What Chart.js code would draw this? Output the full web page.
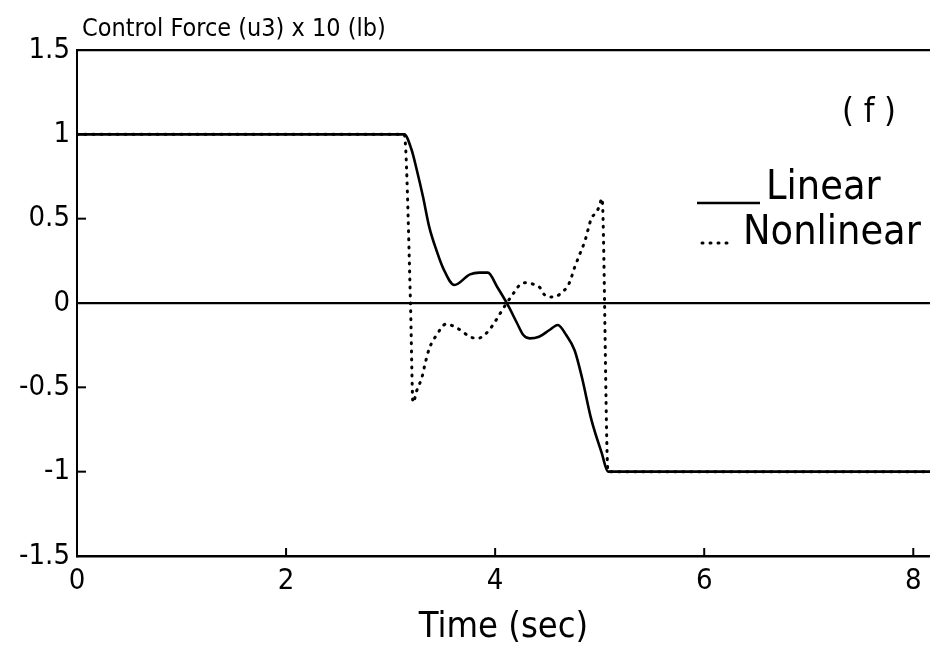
<!DOCTYPE html>
<html>
<head>
<meta charset="utf-8">
<script src="https://cdn.jsdelivr.net/npm/chart.js@4.4.1/dist/chart.umd.min.js"></script>
<style>
  html, body { margin: 0; padding: 0; background: #fff; }
  #chart { display: block; }
</style>
</head>
<body>
<canvas id="chart" width="930" height="651"></canvas>
<script>
// Data
const linearT = [0, 3.13, 3.20, 3.25, 3.31, 3.37, 3.44, 3.50, 3.61, 3.76, 3.85, 3.93, 4.02, 4.12, 4.21, 4.27, 4.33, 4.42, 4.52, 4.60, 4.68, 4.76, 4.83, 4.92, 5.02, 5.08, 8.2];
const linearY = [1, 1, 0.91, 0.79, 0.63, 0.45, 0.31, 0.21, 0.107, 0.17, 0.18, 0.18, 0.095, -0.01, -0.12, -0.19, -0.21, -0.20, -0.16, -0.13, -0.19, -0.28, -0.44, -0.69, -0.89, -1, -1];

const nonlinearT = [0, 3.13, 3.19, 3.21, 3.215, 3.25, 3.30, 3.33, 3.37, 3.44, 3.53, 3.64, 3.76, 3.83, 3.93, 4.01, 4.09, 4.19, 4.25, 4.30, 4.37, 4.43, 4.47, 4.53, 4.59, 4.64, 4.69, 4.72, 4.76, 4.81, 4.86, 4.92, 4.97, 5.00, 5.02, 5.03, 5.08, 8.2];
const nonlinearY = [1, 1, 0, -0.56, -0.59, -0.52, -0.44, -0.36, -0.27, -0.19, -0.125, -0.15, -0.20, -0.21, -0.17, -0.10, -0.02, 0.07, 0.115, 0.12, 0.11, 0.09, 0.05, 0.035, 0.04, 0.065, 0.095, 0.135, 0.21, 0.29, 0.37, 0.50, 0.54, 0.58, 0.62, 0.55, -1, -1];

const xTickValues = [0, 2, 4, 6, 8];
const xTickLabels = ['0', '2', '4', '6', '8'];
const yTickValues = [-1.5, -1, -0.5, 0, 0.5, 1, 1.5];
const yTickLabels = ['-1.5', '-1', '-0.5', '0', '0.5', '1', '1.5'];

const seriesNames = ['Linear', 'Nonlinear'];
const yTitle = 'Control Force (u3) x 10 (lb)';
const xTitle = 'Time (sec)';
const panelTag = '( f )';

const FONT = "'DejaVu Sans Condensed', 'DejaVu Sans', sans-serif";

function toPoints(xs, ys) {
    return xs.map((x, i) => ({ x: x, y: ys[i] }));
}

// Extra drawing: inward tick marks, top-left title, legend text, panel tag
const decorations = {
    id: 'decorations',
    afterDraw(chart) {
        const ctx = chart.ctx;
        const xs = chart.scales.x;
        const ys = chart.scales.y;
        const area = chart.chartArea;
        ctx.save();
        ctx.strokeStyle = '#000';
        ctx.lineWidth = 2;
        xTickValues.slice(1).forEach(v => {
            const px = xs.getPixelForValue(v);
            ctx.beginPath();
            ctx.moveTo(px, area.bottom);
            ctx.lineTo(px, area.bottom - 8);
            ctx.stroke();
        });
        yTickValues.slice(1, -1).forEach(v => {
            const py = ys.getPixelForValue(v);
            ctx.beginPath();
            ctx.moveTo(area.left, py);
            ctx.lineTo(area.left + 9, py);
            ctx.stroke();
        });

        ctx.fillStyle = '#000';
        ctx.textBaseline = 'alphabetic';
        ctx.textAlign = 'left';
        ctx.font = '25px ' + FONT;
        ctx.fillText(yTitle, 82, 36);

        ctx.font = '34px ' + FONT;
        ctx.fillText(panelTag, 842, 122);

        // legend
        ctx.font = '41px ' + FONT;
        ctx.fillText(seriesNames[0], 766, 199);
        ctx.fillText(seriesNames[1], 743, 244);
        ctx.lineWidth = 2.5;
        ctx.beginPath();
        ctx.moveTo(697, 203);
        ctx.lineTo(760, 203);
        ctx.stroke();
        ctx.setLineDash([1, 7]);
        ctx.lineCap = 'round';
        ctx.lineWidth = 3;
        ctx.beginPath();
        ctx.moveTo(702, 243);
        ctx.lineTo(730, 243);
        ctx.stroke();
        ctx.restore();
    }
};

const ctx = document.getElementById('chart').getContext('2d');
const chart = new Chart(ctx, {
    type: 'scatter',
    data: {
        datasets: [{
            label: seriesNames[0],
            data: toPoints(linearT, linearY),
            showLine: true,
            borderColor: '#000',
            borderWidth: 2.6,
            pointRadius: 0,
            cubicInterpolationMode: 'monotone'
        }, {
            label: seriesNames[1],
            data: toPoints(nonlinearT, nonlinearY),
            showLine: true,
            borderColor: '#000',
            borderWidth: 3,
            borderDash: [1, 7],
            borderCapStyle: 'round',
            pointRadius: 0,
            cubicInterpolationMode: 'monotone'
        }]
    },
    options: {
        responsive: false,
        animation: false,
        layout: { padding: { top: 50, right: 0, left: 0, bottom: 0 } },
        plugins: {
            legend: { display: false },
            tooltip: { enabled: false }
        },
        scales: {
            x: {
                type: 'linear',
                min: 0,
                max: 8.16,
                afterBuildTicks: (scale) => { scale.ticks = xTickValues.map(v => ({ value: v })); },
                afterFit: (scale) => { scale.height = 95; },
                ticks: {
                    color: '#000',
                    font: { family: FONT, size: 29 },
                    padding: 8,
                    maxRotation: 0,
                    callback: (v) => xTickLabels[xTickValues.indexOf(v)]
                },
                grid: { display: false, drawTicks: false },
                border: { display: true, color: '#000', width: 2.5 },
                title: {
                    display: true,
                    text: xTitle,
                    color: '#000',
                    font: { family: FONT, size: 36 },
                    padding: { top: 0, bottom: 2 }
                }
            },
            y: {
                type: 'linear',
                min: -1.5,
                max: 1.5,
                afterBuildTicks: (scale) => { scale.ticks = yTickValues.map(v => ({ value: v })); },
                afterFit: (scale) => { scale.width = 77; },
                ticks: {
                    color: '#000',
                    font: { family: FONT, size: 29 },
                    padding: 7,
                    callback: (v) => yTickLabels[yTickValues.indexOf(v)]
                },
                grid: {
                    drawTicks: false,
                    lineWidth: 2.2,
                    color: (c) => (c.tick && (c.tick.value === 0 || c.tick.value === 1.5)) ? '#000' : 'rgba(0,0,0,0)'
                },
                border: { display: true, color: '#000', width: 2 }
            }
        }
    },
    plugins: [decorations]
});
</script>
</body>
</html>
